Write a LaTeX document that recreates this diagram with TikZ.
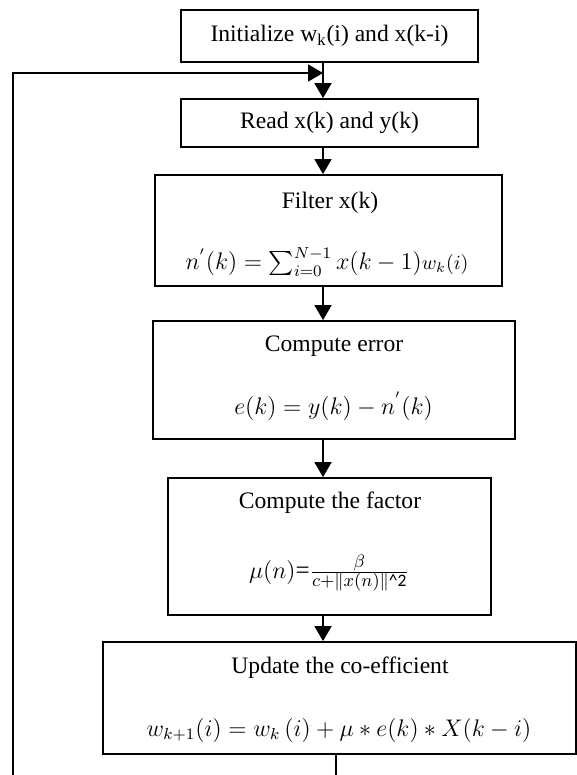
\documentclass[tikz,border=0pt]{standalone}
\usepackage{amsmath}
\usepackage{fontspec}
\setmainfont{Liberation Serif}
\newfontfamily\calsans{Carlito}
\usetikzlibrary{arrows.meta}
\begin{document}
\begin{tikzpicture}[x=0.5pt,y=-0.5pt,
  box/.style={draw, line width=0.9pt, inner sep=0pt},
  txt/.style={inner sep=0pt, font=\fontsize{11.8}{13}\selectfont},
  mth/.style={inner sep=0pt, font=\fontsize{12}{14}\selectfont},
  conn/.style={line width=0.9pt},
  arr/.style={conn, -{Triangle[length=7.5pt,width=8.5pt]}}]
\useasboundingbox (0,0) rectangle (577,775);
% boxes
\node[box, minimum width=148.5pt, minimum height=26pt] (init) at (329.5,36) {};
\node[box, minimum width=148.5pt, minimum height=24pt] (read) at (329.5,123) {};
\node[box, minimum width=173.5pt, minimum height=55.5pt] (filt) at (328.5,230.5) {};
\node[box, minimum width=181pt, minimum height=59pt] (err) at (334,380) {};
\node[box, minimum width=161.5pt, minimum height=68.5pt] (fac) at (329.5,546.5) {};
\node[box, minimum width=236.5pt, minimum height=56pt] (upd) at (339.5,698) {};
% texts
\node[txt] (tinit) at (329.5,36) {Initialize w\textsubscript{k}(i) and x(k-i)};
\node[txt] (tread) at (329.5,123) {Read x(k) and y(k)};
\node[txt] (tfilt) at (330,203) {Filter x(k)};
\node[mth, font=\fontsize{11.8}{14}\selectfont] (mfilt) at (327,262) {$n^{'}(k) = \sum_{i=0}^{N-1} x(k-1)${\fontsize{9.8}{12}\selectfont$w_{k}(i)$}};
\node[txt] (terr) at (334,346) {Compute error};
\node[mth, font=\fontsize{12.6}{15}\selectfont] (merr) at (333.5,406) {$e(k) = y(k) - n^{'}(k)$};
\node[txt] (tfac) at (330,503) {Compute the factor};
\node[mth, font=\fontsize{12.5}{14}\selectfont] (mfac) at (329,573) {$\mu(n)$=$\frac{\beta}{c+\|x(n)\|\text{\calsans\textasciicircum 2}}$};
\node[txt] (tupd) at (340,668) {Update the co-efficient};
\node[mth] (mupd) at (339,730) {$w_{k+1}(i) = w_{k}\,(i) + \mu * e(k) * X(k-i)$};
% connectors
\coordinate (ax) at (323,0);
\draw[arr] (init.south -| ax) -- (read.north -| ax);
\draw[arr] (read.south -| ax) -- (filt.north -| ax);
\draw[arr] (filt.south -| ax) -- (err.north -| ax);
\draw[arr] (err.south -| ax) -- (fac.north -| ax);
\draw[arr] (fac.south -| ax) -- (upd.north -| ax);
% feedback loop
\coordinate (fbA) at (336,782);
\coordinate (fbB) at (13,782);
\coordinate (fbC) at (13,73);
\draw[arr] (upd.south -| fbA) -- (fbA) -- (fbB) -- (fbC) -- (fbC -| ax);
\end{tikzpicture}
\end{document}
